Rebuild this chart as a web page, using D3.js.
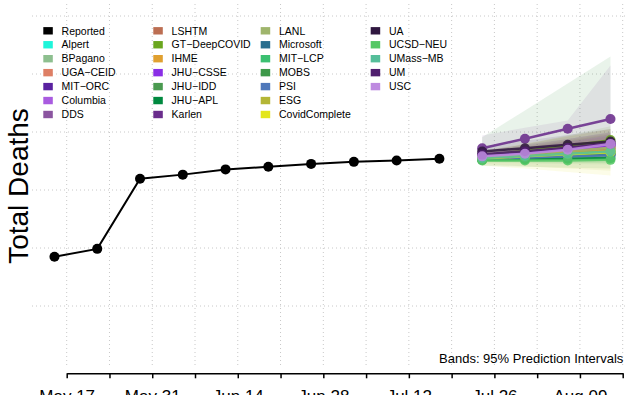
<!DOCTYPE html>
<html><head><meta charset="utf-8">
<script src="https://cdn.jsdelivr.net/npm/d3@7"></script>
<style>html,body{margin:0;padding:0;background:#fff;}svg{display:block;font-family:"Liberation Sans",Arial,sans-serif;}</style>
</head><body><svg id="chart" width="628" height="395"></svg>
<script>
// ---------- data ----------
const reportedDates = ["2020-05-15","2020-05-22","2020-05-29","2020-06-05","2020-06-12","2020-06-19","2020-06-26","2020-07-03","2020-07-10","2020-07-17"];
const reportedDeaths = [570, 597, 839, 853, 871, 880, 890, 897, 902, 908];
const forecastDates = ["2020-07-24","2020-07-31","2020-08-07","2020-08-14"];
const models = ["Alpert","BPagano","UGA\u2212CEID","MIT\u2212ORC","Columbia","DDS","LSHTM","GT\u2212DeepCOVID","IHME","JHU\u2212CSSE","JHU\u2212IDD","JHU\u2212APL","Karlen","LANL","Microsoft","MIT\u2212LCP","MOBS","PSI","ESG","CovidComplete","UA","UCSD\u2212NEU","UMass\u2212MB","UM","USC"];
const modelColors = ["#1EF5DA","#8DBF8F","#DE7F65","#5A22A0","#A95BE0","#8B55A0","#BC6E52","#6AA61E","#E0A030","#8A2EE6","#4A9A50","#00893F","#6A2D8C","#9FB56C","#2A6F8F","#3BC071","#3E994A","#4F78BA","#B4B636","#E3E61A","#301840","#55C865","#55BE9A","#4F1E6E","#BE8AE0"];
const pointForecasts = [
 [910,918,926,934],[912,920,930,940],[914,925,936,948],[918,930,942,955],[916,928,942,958],
 [920,934,948,962],[914,924,934,944],[918,935,952,972],[912,920,928,936],[916,927,940,953],
 [906,910,916,922],[904,906,908,910],[944,977,1011,1045],[912,922,934,946],[908,913,918,922],
 [910,916,924,930],[906,912,918,926],[908,912,916,920],[910,918,926,932],[909,916,923,930],
 [933,944,956,967],[902,902,902,904],[910,917,925,933],[922,934,946,960],[916,925,939,959]];
const lower95 = [
 [900,902,903,905],[902,905,908,910],[903,906,910,914],[908,912,916,920],[904,906,910,914],
 [906,910,914,918],[905,908,911,914],[906,912,918,924],[905,908,911,914],[905,909,913,917],
 [884,880,877,874],[898,896,894,892],[920,935,950,965],[902,905,908,911],[900,901,902,903],
 [902,904,906,908],[896,898,900,902],[902,903,904,905],[890,882,874,866],[884,874,862,850],
 [915,920,925,930],[895,892,890,888],[900,902,905,908],[908,914,920,926],[904,908,914,920]];
const upper95 = [
 [920,935,950,965],[922,938,955,972],[926,945,965,985],[928,948,970,992],[930,952,976,1000],
 [934,958,984,1010],[924,940,958,976],[930,958,988,1020],[920,932,946,960],[928,946,966,988],
 [982,1074,1167,1260],[912,918,924,930],[988,1015,1040,1229],[924,942,962,984],[916,926,936,946],
 [918,930,944,958],[918,930,944,960],[914,922,930,938],[930,950,972,995],[935,960,985,1010],
 [950,970,990,1010],[910,914,918,922],[922,935,948,962],[936,956,976,998],[928,944,964,990]];
const gridValues = [400,600,800,1000,1200,1400];
const axisStart = "2020-05-17", axisEnd = "2020-08-16";

// ---------- setup ----------
const svg = d3.select("#chart");
const parse = d3.utcParse("%Y-%m-%d");
const x = d3.scaleUtc().domain([parse(axisStart), parse(axisEnd)]).range([66.7, 622.7]);
const y = d3.scaleLinear().domain([400, 1400]).range([306, 16]);
const weekTicks = d3.utcSunday.range(parse(axisStart), d3.utcDay.offset(parse(axisEnd),1));

// grid
const grid = svg.append("g").attr("stroke","#c8c8c8").attr("stroke-width",1).attr("stroke-dasharray","1,3");
grid.selectAll("line.h").data(gridValues).join("line")
  .attr("x1",32).attr("x2",628).attr("y1",d=>y(d)).attr("y2",d=>y(d));
grid.selectAll("line.v").data(weekTicks).join("line")
  .attr("x1",d=>x(d)).attr("x2",d=>x(d)).attr("y1",4).attr("y2",368);

// legend
const legendNames = ["Reported"].concat(models);
const legendColors = ["#000000"].concat(modelColors);
const colX = [43.3, 153.3, 260.7, 370.7];
const rowsPerCol = [7,7,7,5];
let idx = 0;
const leg = svg.append("g").attr("font-size","10.5px").attr("fill","#000");
rowsPerCol.forEach((n,c)=>{
  for(let r=0;r<n;r++){
    const cy = 30.7 + r*13.95;
    leg.append("rect").attr("x",colX[c]).attr("y",cy-3.6).attr("width",9.5).attr("height",7.4).attr("fill",legendColors[idx]);
    leg.append("text").attr("x",colX[c]+18.3).attr("y",cy+3.8).text(legendNames[idx]);
    idx++;
  }
});

// bands
const fDates = forecastDates.map(parse);
const area = d3.area().x((d,i)=>x(fDates[i])).y0(d=>y(d[0])).y1(d=>y(d[1]));
models.forEach((m,k)=>{
  const pts = fDates.map((d,i)=>[lower95[k][i], upper95[k][i]]);
  svg.append("path").datum(pts).attr("d",area).attr("fill",modelColors[k])
    .attr("fill-opacity", m==="Karlen" ? 0.09 : (m==="JHU\u2212IDD" ? 0.12 : 0.1));
});

// reported line
const rDates = reportedDates.map(parse);
const line = d3.line().x(d=>x(d[0])).y(d=>y(d[1]));
svg.append("path").datum(rDates.map((d,i)=>[d,reportedDeaths[i]])).attr("d",line)
  .attr("fill","none").attr("stroke","#000").attr("stroke-width",2);
svg.selectAll("circle.rep").data(rDates.map((d,i)=>[d,reportedDeaths[i]])).join("circle")
  .attr("cx",d=>x(d[0])).attr("cy",d=>y(d[1])).attr("r",5).attr("fill","#000");

// forecast lines & points
models.forEach((m,k)=>{
  const pts = fDates.map((d,i)=>[d, pointForecasts[k][i]]);
  const g = svg.append("g").attr("opacity",0.88);
  g.append("path").datum(pts).attr("d",line).attr("fill","none").attr("stroke",modelColors[k]).attr("stroke-width",2.5);
  g.selectAll("circle").data(pts).join("circle").attr("cx",d=>x(d[0])).attr("cy",d=>y(d[1])).attr("r",5).attr("fill",modelColors[k]);
});

// x axis
const fmt = d3.utcFormat("%b %d");
const axis = d3.axisBottom(x).tickValues(weekTicks).tickSizeOuter(0).tickSizeInner(5)
  .tickFormat((d,i)=> i%2===0 ? fmt(d) : "");
const ax = svg.append("g").attr("transform","translate(0,373.3)").call(axis);
ax.select(".domain").attr("stroke-width",1.5);
ax.selectAll(".tick line").attr("stroke-width",1.5);
ax.selectAll("text").attr("font-size","17px").attr("font-family","Liberation Sans, Arial, sans-serif").attr("fill","#000").attr("dy","0").attr("y",28.5);

// y title
svg.append("text").attr("transform","translate(28.3,186) rotate(-90)").attr("text-anchor","middle")
  .attr("font-size","28px").attr("fill","#000").text("Total Deaths");

// bands note
svg.append("text").attr("x",623.3).attr("y",363).attr("text-anchor","end").attr("font-size","13px").attr("fill","#000")
  .text("Bands: 95% Prediction Intervals");
</script></body></html>
